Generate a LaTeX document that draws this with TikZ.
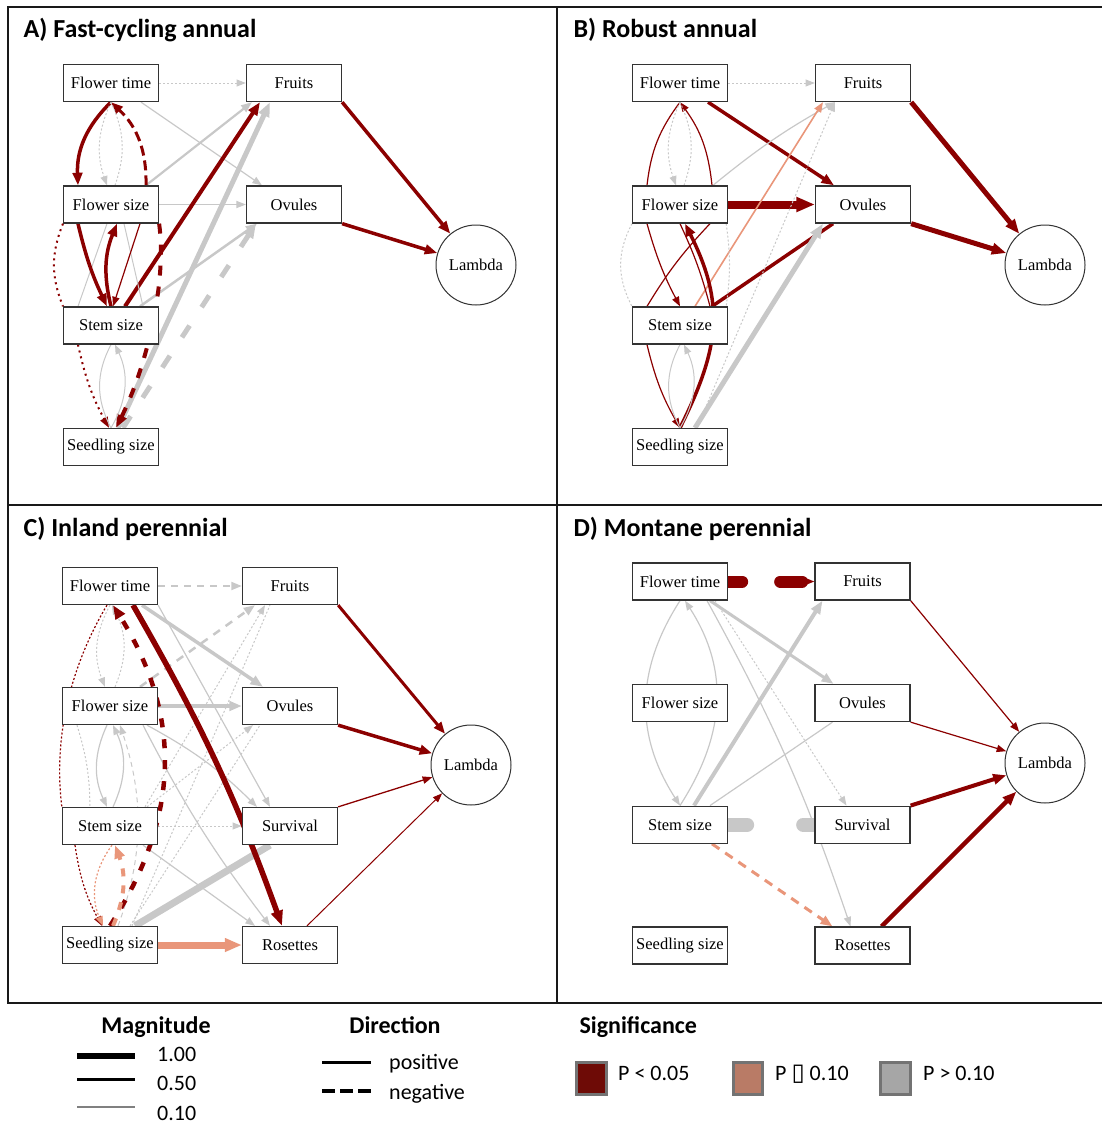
\documentclass[tikz,border=0pt]{standalone}
\usepackage{fontspec}
\setmainfont{Liberation Serif}
\newfontfamily\calib{Carlito}
\newfontfamily\symfont{DejaVu Sans}
\usetikzlibrary{arrows.meta}
\definecolor{sigred}{HTML}{8B0000}
\definecolor{margsal}{HTML}{E9967A}
\definecolor{nsgray}{HTML}{C8C8C8}
\definecolor{boxline}{HTML}{333333}
\pgfdeclarelayer{edges}
\pgfsetlayers{edges,main}
\tikzset{
  var/.style={draw=boxline, line width=1.3pt, fill=white, minimum width=95pt, minimum height=37pt, inner sep=0pt, font=\fontsize{16.5}{19}\selectfont},
  lam/.style={circle, draw=boxline, line width=1pt, fill=white, minimum size=80pt, inner sep=0pt, font=\fontsize{16.5}{19}\selectfont},
  sig/.style={draw=sigred},
  mar/.style={draw=margsal},
  ns/.style={draw=nsgray},
  arr/.style={-{Triangle[length=8pt 1.3,width=6pt 1]}},
  dotline/.style={dash pattern=on 2pt off 2pt},
  ptitle/.style={anchor=base west, font=\calib\bfseries\fontsize{26}{30}\selectfont},
  lhead/.style={anchor=base, font=\calib\bfseries\fontsize{24}{28}\selectfont},
  ltext/.style={anchor=base west, inner sep=0pt, font=\calib\fontsize{22}{26}\selectfont},
  sqbox/.style={draw=black!55, line width=3pt},
}
\begin{document}
\begin{tikzpicture}[x=1pt,y=1pt]
\useasboundingbox (0,0) rectangle (1102,-1124);

\node[ptitle] (tA) at (20,-37.7) {A) Fast-cycling annual};
\node[ptitle] (tB) at (570,-37.7) {B) Robust annual};
\node[ptitle] (tC) at (20,-536.7) {C) Inland perennial};
\node[ptitle] (tD) at (570,-536.7) {D) Montane perennial};

\node[var] (ftA) at (111,-83) {Flower time};
\node[var] (frA) at (294,-83) {Fruits};
\node[var] (fsA) at (111,-204.5) {Flower size};
\node[var] (ovA) at (294,-204.5) {Ovules};
\node[var] (ssA) at (111,-325.5) {Stem size};
\node[var] (sdA) at (111,-447) {Seedling size};
\node[lam] (lamA) at (476,-265) {Lambda};

\node[var] (ftB) at (680,-83) {Flower time};
\node[var] (frB) at (863,-83) {Fruits};
\node[var] (fsB) at (680,-204.5) {Flower size};
\node[var] (ovB) at (863,-204.5) {Ovules};
\node[var] (ssB) at (680,-325.5) {Stem size};
\node[var] (sdB) at (680,-447) {Seedling size};
\node[lam] (lamB) at (1045,-265) {Lambda};

\node[var] (ftC) at (110,-586) {Flower time};
\node[var] (frC) at (290,-586) {Fruits};
\node[var] (fsC) at (110,-706) {Flower size};
\node[var] (ovC) at (290,-706) {Ovules};
\node[var] (ssC) at (110,-826) {Stem size};
\node[var] (svC) at (290,-826) {Survival};
\node[var] (sdC) at (110,-945) {Seedling size};
\node[var] (roC) at (290,-945) {Rosettes};
\node[lam] (lamC) at (471,-765) {Lambda};

\node[var] (ftD) at (680,-581.5) {Flower time};
\node[var] (frD) at (862.5,-581.5) {Fruits};
\node[var] (fsD) at (680,-703) {Flower size};
\node[var] (ovD) at (862.5,-703) {Ovules};
\node[var] (ssD) at (680,-824.7) {Stem size};
\node[var] (svD) at (862.5,-824.7) {Survival};
\node[var] (sdD) at (680,-945.6) {Seedling size};
\node[var] (roD) at (862.5,-945.6) {Rosettes};
\node[lam] (lamD) at (1045,-763) {Lambda};

\begin{pgfonlayer}{edges}
% A
\draw[ns,dotline,arr,line width=1] (ftA) -- (frA);
\draw[sig,arr,line width=3.5] (frA.south east) -- (lamA);
\draw[sig,arr,line width=3.5] (ovA.south east) -- (lamA);
\draw[ns,arr,line width=1.2] ([xshift=30pt]ftA.south) -- ([xshift=-32pt]ovA.north);
\draw[ns,arr,line width=1.2] (fsA) -- (ovA);
\draw[ns,arr,line width=2.2] ([xshift=35pt]fsA.north) -- ([xshift=-42pt]frA.south);
\draw[sig,arr,line width=4] ([xshift=14pt]ssA.north) -- ([xshift=-34pt]frA.south);
\draw[ns,arr,line width=5] ([xshift=7pt]sdA.north) -- ([xshift=-24pt]frA.south);
\draw[ns,arr,line width=2.5] ([xshift=29pt]ssA.north) -- ([xshift=-37pt]ovA.south);
\draw[ns,arr,line width=5,dash pattern=on 14pt off 22pt] ([xshift=12pt]sdA.north) -- ([xshift=-38pt]ovA.south);
\draw[sig,arr,line width=3.5] (ftA.south) to[bend right=24] ([xshift=-33pt]fsA.north);
\draw[sig,arr,line width=3,dash pattern=on 10pt off 5pt] ([xshift=35pt]fsA.north) to[bend right=24] (ftA.south);
\draw[ns,dotline,arr,line width=1] (ftA.south) to[bend right=22] ([xshift=-4pt]fsA.north);
\draw[ns,dotline,line width=1] ([xshift=4pt]fsA.north) to[bend right=22] (ftA.south);
\draw[ns,line width=1] ([xshift=-4pt]fsA.south) -- ([xshift=-33pt]ssA.north);
\draw[ns,line width=1] ([xshift=13pt]fsA.south) -- ([xshift=32pt]ssA.north);
\draw[sig,arr,line width=3.5] ([xshift=-33pt]fsA.south) to[bend right=6] ([xshift=-4pt]ssA.north);
\draw[sig,arr,line width=3.5] (ssA.north) to[bend left=18] ([xshift=6pt]fsA.south);
\draw[sig,arr,line width=1.2] ([xshift=29pt]fsA.south) -- ([xshift=2pt]ssA.north);
\draw[sig,line width=2,dash pattern=on 2pt off 4pt] ([xshift=-48pt]fsA.south) to[bend right=22] ([xshift=-48pt]ssA.north);
\draw[sig,arr,line width=4,dash pattern=on 10pt off 11pt] (fsA.south east) .. controls +(8,-60) and +(30,60) .. ([xshift=5pt]sdA.north);
\draw[sig,arr,line width=2,dash pattern=on 2pt off 4pt] ([xshift=-33pt]ssA.south) to[bend right=8] ([xshift=-2pt]sdA.north);
\draw[ns,arr,line width=1] (sdA.north) to[bend right=28] ([xshift=4pt]ssA.south);
\draw[ns,line width=1] (ssA.south) to[bend right=28] (sdA.north);
% B
\draw[ns,dotline,arr,line width=1] (ftB) -- (frB);
\draw[sig,arr,line width=5] (frB.south east) -- (lamB);
\draw[sig,arr,line width=5] (ovB.south east) -- (lamB);
\draw[sig,arr,line width=3.5] ([xshift=28pt]ftB.south) -- ([xshift=-29pt]ovB.north);
\draw[sig,arr,line width=8] (fsB) -- (ovB);
\draw[ns,arr,line width=1.2] ([xshift=33pt]fsB.north) to[bend left=5] ([xshift=-28pt]frB.south);
\draw[mar,arr,line width=1.6] ([xshift=15pt]ssB.north) -- ([xshift=-40pt]frB.south);
\draw[sig,line width=3.5] ([xshift=32pt]ssB.north) -- ([xshift=-30pt]ovB.south);
\draw[ns,arr,line width=5] ([xshift=15pt]sdB.north) -- ([xshift=-40pt]ovB.south);
\draw[ns,dotline,arr,line width=1] ([xshift=17pt]sdB.north) -- ([xshift=-28pt]frB.south);
\draw[ns,dotline,line width=1] ([xshift=-2pt]fsB.south east) to[bend left=8] ([xshift=-2pt]ssB.north east);
\draw[sig,line width=1.2] (ftB.south) to[bend right=15] ([xshift=-33pt]fsB.north);
\draw[sig,arr,line width=1.2] ([xshift=32pt]fsB.north) to[bend right=15] (ftB.south);
\draw[ns,dotline,arr,line width=1] (ftB.south) to[bend right=22] ([xshift=-4pt]fsB.north);
\draw[ns,dotline,line width=1] ([xshift=4pt]fsB.north) to[bend right=22] (ftB.south);
\draw[sig,arr,line width=1.2] ([xshift=-33pt]fsB.south) to[bend right=6] (ssB.north);
\draw[sig,line width=1.2] ([xshift=30pt]fsB.south) to[bend right=6] ([xshift=-33pt]ssB.north);
\draw[sig,line width=1.2] (fsB.south) to[bend left=5] ([xshift=30pt]ssB.north);
\draw[ns,dotline,line width=1] ([xshift=-48pt]fsB.south) to[bend right=28] ([xshift=-48pt]ssB.north);
\draw[sig,arr,line width=3.5] (sdB.north) .. controls +(40,80) and +(40,-80) .. ([xshift=5pt]fsB.south);
\draw[sig,arr,line width=1.2] ([xshift=-33pt]ssB.south) to[bend right=8] (sdB.north);
\draw[ns,arr,line width=1] (sdB.north) to[bend right=28] ([xshift=4pt]ssB.south);
\draw[ns,line width=1] (ssB.south) to[bend right=28] (sdB.north);
% C
\draw[ns,arr,line width=2,dash pattern=on 7pt off 6pt] (ftC) -- (frC);
\draw[sig,arr,line width=3] (frC.south east) -- (lamC);
\draw[sig,arr,line width=3.5] (ovC.south east) -- (lamC);
\draw[sig,arr,line width=1.3] (svC.north east) -- (lamC);
\draw[sig,arr,line width=1] ([xshift=17pt]roC.north) -- (lamC);
\draw[ns,dotline,line width=1] ([xshift=22pt]sdC.north) -- ([xshift=-20pt]frC.south);
\draw[ns,dotline,line width=1] ([xshift=20pt]sdC.north) -- ([xshift=-30pt]ovC.south);
\draw[ns,dotline,arr,line width=1] ([xshift=35pt]ssC.north) -- ([xshift=-25pt]frC.south);
\draw[ns,dotline,arr,line width=1] ([xshift=37pt]ssC.north) -- ([xshift=-37pt]ovC.south);
\draw[ns,dotline,arr,line width=1] (ssC) -- (svC);
\draw[ns,dotline,line width=1] ([xshift=-33pt]fsC.south) to[bend left=8] ([xshift=-20pt]ssC.north);
\draw[ns,arr,line width=2.5,dash pattern=on 8pt off 7pt] ([xshift=30pt]fsC.north) -- ([xshift=-35pt]frC.south);
\draw[ns,arr,line width=1.2] ([xshift=37pt]fsC.south) to[bend left=8] ([xshift=-33pt]svC.north);
\draw[ns,arr,line width=1.2] (ftC.south east) -- ([xshift=-20pt]svC.north);
\draw[ns,arr,line width=1.2] ([xshift=33pt]fsC.south) to[bend right=5] ([xshift=-20pt]roC.north);
\draw[ns,arr,line width=1.2] ([xshift=33pt]ssC.south) -- ([xshift=-35pt]roC.north);
\draw[ns,arr,line width=3.5] ([xshift=32pt]ftC.south) -- ([xshift=-27pt]ovC.north);
\draw[ns,arr,line width=3.5] (fsC) -- (ovC);
\draw[ns,arr,line width=1.2] ([xshift=-3pt]fsC.south) to[bend right=25] ([xshift=-3pt]ssC.north);
\draw[ns,arr,line width=1.2] ([xshift=3pt]ssC.north) to[bend right=25] ([xshift=3pt]fsC.south);
\draw[ns,dotline,arr,line width=1] (ftC.south) to[bend right=25] ([xshift=-5pt]fsC.north);
\draw[ns,dotline,arr,line width=1] ([xshift=5pt]fsC.north) to[bend right=25] ([xshift=2pt]ftC.south);
\draw[ns,arr,line width=1,dash pattern=on 5pt off 4pt] ([xshift=8pt]sdC.north) .. controls +(30,80) and +(20,-60) .. ([xshift=10pt]fsC.south);
\draw[ns,line width=7] ([xshift=25pt]sdC.north) -- ([xshift=-20pt]svC.south);
\draw[sig,arr,line width=5.5] ([xshift=23pt]ftC.south) to[bend left=5] ([xshift=-8pt]roC.north);
\draw[sig,arr,line width=4.5,dash pattern=on 9pt off 12pt] (sdC.north) .. controls +(71,110) and +(69,-110) .. ([xshift=3pt]ftC.south);
\draw[sig,line width=1.2,dash pattern=on 2pt off 2pt] ([xshift=-3pt]ftC.south) .. controls +(-30,-50) and +(-10,80) .. (ssC.north west);
\draw[sig,arr,line width=1.2,dash pattern=on 2pt off 2pt] ([xshift=-35pt]ssC.south) to[bend right=10] ([xshift=-8pt]sdC.north);
\draw[mar,arr,line width=1.2,dash pattern=on 2pt off 2pt] ([xshift=2pt]ssC.south) to[bend right=30] ([xshift=-7pt]sdC.north);
\draw[mar,arr,line width=4,dash pattern=on 8pt off 9pt] ([xshift=3pt]sdC.north) to[bend right=22] ([xshift=5pt]ssC.south);
\draw[mar,arr,line width=7] (sdC) -- (roC);
% D
\draw[sig,line width=12,line cap=round,dash pattern=on 14pt off 38pt on 22pt off 200pt] (ftD) -- (frD);
\draw[sig,arr,line width=1.5,shorten <=70pt] (ftD) -- (frD);
\draw[sig,arr,line width=1.2] (frD.south east) -- (lamD);
\draw[sig,arr,line width=1.2] (ovD.south east) -- (lamD);
\draw[sig,arr,line width=4] (svD.north east) -- (lamD);
\draw[sig,arr,line width=4.5] ([xshift=19pt]roD.north) -- (lamD);
\draw[ns,line width=14,line cap=round,dash pattern=on 19pt off 56pt on 40pt off 100pt] (ssD) -- (svD);
\draw[mar,arr,line width=3,dash pattern=on 9pt off 7pt] ([xshift=32pt]ssD.south) -- ([xshift=-30pt]roD.north);
\draw[ns,arr,line width=3] ([xshift=30pt]ftD.south) -- ([xshift=-29pt]ovD.north);
\draw[ns,arr,line width=4] ([xshift=14pt]ssD.north) -- ([xshift=-40pt]frD.south);
\draw[ns,dotline,arr,line width=1] ([xshift=35pt]ftD.south) -- ([xshift=-16pt]svD.north);
\draw[ns,arr,line width=1.2] ([xshift=27pt]ftD.south) to[bend left=5] ([xshift=-12pt]roD.north);
\draw[ns,line width=1.2] ([xshift=-30pt]ovD.south) -- ([xshift=30pt]ssD.north);
\draw[ns,arr,line width=1.2] (ftD.south) .. controls +(-45,-70) and +(-45,70) .. (ssD.north);
\draw[ns,arr,line width=1.2] (ssD.north) .. controls +(45,70) and +(45,-70) .. ([xshift=5pt]ftD.south);
\end{pgfonlayer}

\draw[line width=2.5pt, black!90] (8,-7) rectangle (1106,-1003);
\draw[line width=2.5pt, black!90] (557,-7) -- (557,-1003);
\draw[line width=2.5pt, black!90] (8,-505) -- (1106,-505);

\node[lhead] (hMag) at (156,-1033) {Magnitude};
\node[lhead] (hDir) at (395,-1033) {Direction};
\node[lhead, anchor=base west] (hSig) at (576,-1033) {Significance};

\node[ltext] (m100) at (157,-1061.7) {1.00};
\node[ltext] (m050) at (157,-1090.7) {0.50};
\node[ltext] (m010) at (157,-1120) {0.10};
\draw[line width=6pt] (77,-1056.3) -- (135,-1056.3);
\draw[line width=3.3pt] (77,-1079.3) -- (135,-1079.3);
\draw[line width=2pt, black!50] (77,-1107) -- (135,-1107);

\node[ltext] (dpos) at (389,-1069) {positive};
\node[ltext] (dneg) at (389,-1099) {negative};
\draw[line width=3.3pt] (322,-1062.7) -- (371,-1062.7);
\draw[line width=4pt, dash pattern=on 13pt off 5pt] (322,-1091.3) -- (371,-1091.3);

\draw[sqbox, fill={rgb,255:red,110;green,11;blue,6}] (576,-1062) rectangle (606,-1094);
\draw[sqbox, fill={rgb,255:red,185;green,123;blue,102}] (733,-1062) rectangle (762,-1094);
\draw[sqbox, fill={rgb,255:red,166;green,166;blue,166}] (880,-1062) rectangle (910,-1094);
\node[ltext] (s1) at (618,-1080) {P < 0.05};
\node[ltext] (s2) at (775,-1080) {P {\symfont\fontsize{24}{26}\selectfont\char"25AF} 0.10};
\node[ltext] (s3) at (923,-1080) {P > 0.10};
\end{tikzpicture}
\end{document}
